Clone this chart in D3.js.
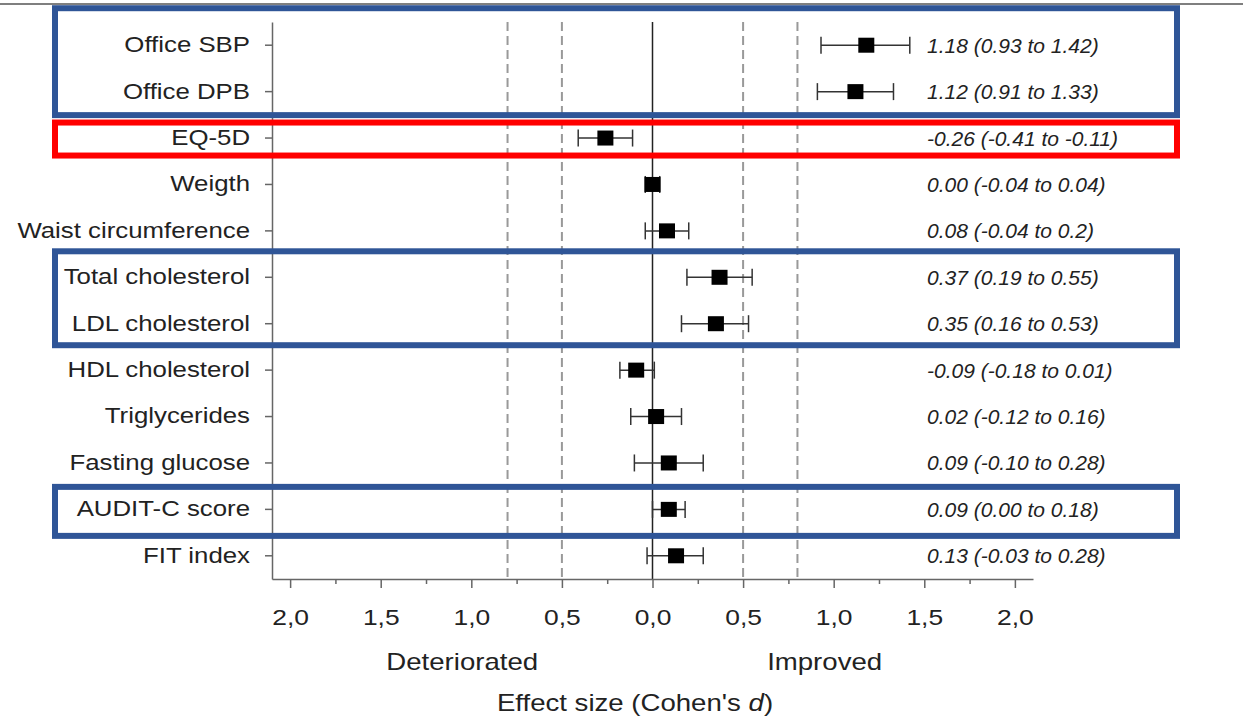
<!DOCTYPE html>
<html>
<head>
<meta charset="utf-8">
<script src="https://cdn.jsdelivr.net/npm/d3@7"></script>
<style>
  body { margin: 0; background: #fff; }
  svg { display: block; font-family: "Liberation Sans", Arial, sans-serif; }
</style>
</head>
<body>
<svg id="chart"></svg>
<script>
// outcomes, top to bottom
const outcomes = ["Office SBP", "Office DPB", "EQ-5D", "Weigth", "Waist circumference",
  "Total cholesterol", "LDL cholesterol", "HDL cholesterol", "Triglycerides",
  "Fasting glucose", "AUDIT-C score", "FIT index"];
const estimates = [1.18, 1.12, -0.26, 0.00, 0.08, 0.37, 0.35, -0.09, 0.02, 0.09, 0.09, 0.13];
const lowerCI = [0.93, 0.91, -0.41, -0.04, -0.04, 0.19, 0.16, -0.18, -0.12, -0.10, 0.00, -0.03];
const upperCI = [1.42, 1.33, -0.11, 0.04, 0.2, 0.55, 0.53, 0.01, 0.16, 0.28, 0.18, 0.28];
const ciLabels = ["1.18 (0.93 to 1.42)", "1.12 (0.91 to 1.33)", "-0.26 (-0.41 to -0.11)",
  "0.00 (-0.04 to 0.04)", "0.08 (-0.04 to 0.2)", "0.37 (0.19 to 0.55)", "0.35 (0.16 to 0.53)",
  "-0.09 (-0.18 to 0.01)", "0.02 (-0.12 to 0.16)", "0.09 (-0.10 to 0.28)",
  "0.09 (0.00 to 0.18)", "0.13 (-0.03 to 0.28)"];
const xTicks = [-2, -1.5, -1, -0.5, 0, 0.5, 1, 1.5, 2];
const xMinorTicks = [-1.75, -1.25, -0.75, -0.25, 0.25, 0.75, 1.25, 1.75];
const refLines = [-0.8, -0.5, 0.5, 0.8];

const width = 1243;
const height = 718;
const stretch = 1.2; // text in the picture is a bit wide

const svg = d3.select("#chart")
  .attr("width", width)
  .attr("height", height);

const x = d3.scaleLinear().domain([-2.1, 2.1]).range([272, 1033]);
const y = d3.scaleBand().domain(outcomes).range([22, 579]);
const yc = d => y(d) + y.bandwidth() / 2;

// thin rule at the very top
svg.append("line")
  .attr("x1", 0).attr("x2", width)
  .attr("y1", 4).attr("y2", 4)
  .attr("stroke", "#555").attr("stroke-width", 1.5);

// dashed reference lines
svg.selectAll(".ref").data(refLines).enter().append("line")
  .attr("x1", d => x(d)).attr("x2", d => x(d))
  .attr("y1", 22).attr("y2", 579)
  .attr("stroke", "#999").attr("stroke-width", 2)
  .attr("stroke-dasharray", "9,5");

// zero line
svg.append("line")
  .attr("x1", x(0)).attr("x2", x(0))
  .attr("y1", 22).attr("y2", 579)
  .attr("stroke", "#222").attr("stroke-width", 1.5);

// y axis
const yAxis = svg.append("g")
  .attr("transform", "translate(272,0)")
  .call(d3.axisLeft(y).tickSize(7).tickSizeOuter(0).tickPadding(15));
yAxis.select(".domain").attr("stroke", "#666").attr("stroke-width", 1.5);
yAxis.selectAll(".tick line").attr("stroke", "#666").attr("stroke-width", 1.5);
yAxis.selectAll("text")
  .attr("x", -22 / stretch)
  .attr("transform", `scale(${stretch},1)`)
  .attr("font-size", 21.5)
  .attr("fill", "#222");

// x axis, major + minor ticks
const fmt = d => d3.format(".1f")(Math.abs(d)).replace(".", ",");
const xAxis = svg.append("g")
  .attr("transform", "translate(0,579)")
  .call(d3.axisBottom(x).tickValues(xTicks).tickSize(9).tickSizeOuter(0).tickPadding(21).tickFormat(fmt));
xAxis.select(".domain").attr("stroke", "#666").attr("stroke-width", 1.5);
xAxis.selectAll(".tick line").attr("stroke", "#666").attr("stroke-width", 1.5);
xAxis.selectAll("text")
  .attr("font-size", 22)
  .attr("fill", "#222")
  .each(function () {
    const t = d3.select(this);
    t.attr("transform", `translate(0,${t.attr("y")}) scale(${stretch},1)`).attr("y", 0);
  });

const xMinor = svg.append("g")
  .attr("transform", "translate(0,579)")
  .call(d3.axisBottom(x).tickValues(xMinorTicks).tickSize(5).tickSizeOuter(0).tickFormat(""));
xMinor.select(".domain").remove();
xMinor.selectAll(".tick line").attr("stroke", "#666").attr("stroke-width", 1.5);

// error bars
const rows = outcomes.map((o, i) => ({ name: o, est: estimates[i], lo: lowerCI[i], hi: upperCI[i], txt: ciLabels[i] }));
const bars = svg.selectAll(".row").data(rows).enter().append("g");
bars.append("line")
  .attr("x1", d => x(d.lo)).attr("x2", d => x(d.hi))
  .attr("y1", d => yc(d.name)).attr("y2", d => yc(d.name))
  .attr("stroke", "#333").attr("stroke-width", 1.5);
bars.append("line")
  .attr("x1", d => x(d.lo)).attr("x2", d => x(d.lo))
  .attr("y1", d => yc(d.name) - 8.5).attr("y2", d => yc(d.name) + 8.5)
  .attr("stroke", "#333").attr("stroke-width", 1.5);
bars.append("line")
  .attr("x1", d => x(d.hi)).attr("x2", d => x(d.hi))
  .attr("y1", d => yc(d.name) - 8.5).attr("y2", d => yc(d.name) + 8.5)
  .attr("stroke", "#333").attr("stroke-width", 1.5);
bars.append("rect")
  .attr("x", d => x(d.est) - 8).attr("y", d => yc(d.name) - 7.5)
  .attr("width", 16).attr("height", 15)
  .attr("fill", "#000");

// estimate (CI) text
bars.append("text")
  .attr("x", 927)
  .attr("y", d => yc(d.name) + 7.5)
  .attr("font-size", 21)
  .attr("font-style", "italic")
  .attr("fill", "#222")
  .text(d => d.txt);

// direction labels and axis title
svg.append("text")
  .attr("transform", `translate(${x(-1.05)},670) scale(${stretch},1)`)
  .attr("text-anchor", "middle").attr("font-size", 23).attr("fill", "#222")
  .text("Deteriorated");
svg.append("text")
  .attr("transform", `translate(${x(0.95)},670) scale(${stretch},1)`)
  .attr("text-anchor", "middle").attr("font-size", 23).attr("fill", "#222")
  .text("Improved");
const title = svg.append("text")
  .attr("transform", `translate(635,711) scale(${stretch},1)`)
  .attr("text-anchor", "middle").attr("font-size", 23).attr("fill", "#222");
title.append("tspan").text("Effect size (Cohen's ");
title.append("tspan").attr("font-style", "italic").text("d");
title.append("tspan").text(")");

// highlight boxes drawn over the chart
const boxes = [
  { first: "Office SBP", last: "Office DPB", color: "#2f5597", top: 37, bottom: 23.5 },
  { first: "EQ-5D", last: "EQ-5D", color: "#ff0000", top: 15.5, bottom: 17.5 },
  { first: "Total cholesterol", last: "LDL cholesterol", color: "#2f5597", top: 26, bottom: 21.5 },
  { first: "AUDIT-C score", last: "AUDIT-C score", color: "#2f5597", top: 22.5, bottom: 26.5 }
];
svg.selectAll(".box").data(boxes).enter().append("rect")
  .attr("x", 55)
  .attr("y", d => yc(d.first) - d.top)
  .attr("width", 1177 - 55)
  .attr("height", d => yc(d.last) + d.bottom - (yc(d.first) - d.top))
  .attr("fill", "none")
  .attr("stroke", d => d.color)
  .attr("stroke-width", 6);
</script>
</body>
</html>
